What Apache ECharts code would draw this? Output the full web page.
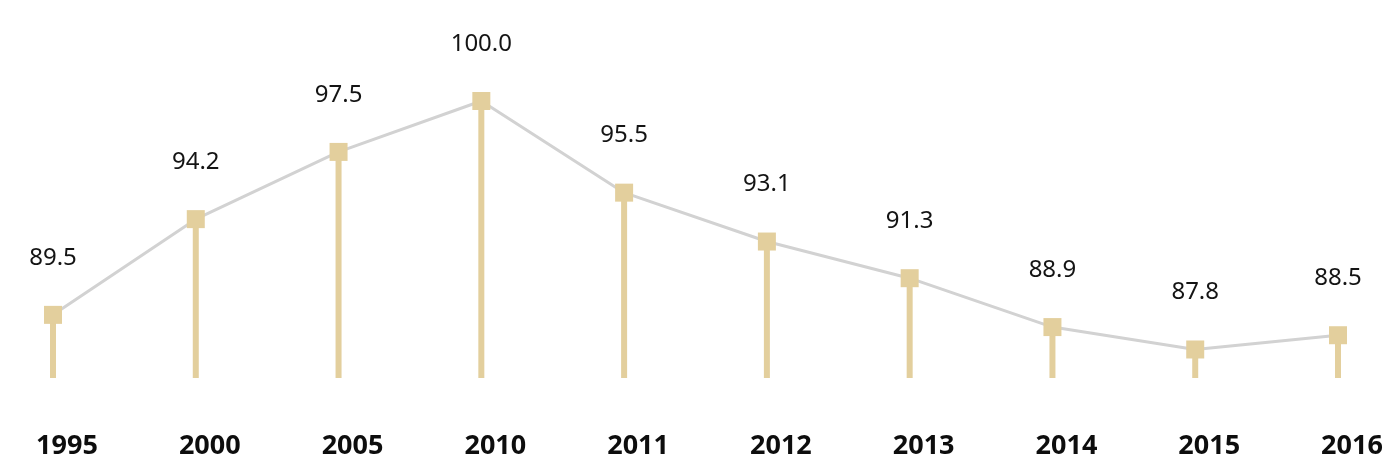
<!DOCTYPE html>
<html lang="en">
<head>
    <meta charset="UTF-8">
    <title>Index by year</title>
    <script src="https://cdn.jsdelivr.net/npm/echarts@6/dist/echarts.min.js"></script>
    <style>
        html, body { margin: 0; padding: 0; background: #fff; }
    </style>
</head>
<body>
<div id="chart" style="width: 1386px;height:462px;"></div>
<script type="text/javascript">
    var years = ['1995', '2000', '2005', '2010', '2011', '2012', '2013', '2014', '2015', '2016'];
    var values = [89.5, 94.2, 97.5, 100.0, 95.5, 93.1, 91.3, 88.9, 87.8, 88.5];

    var gold = '#e3cf9d';
    var chart = echarts.init(document.getElementById('chart'));

    var option = {
        animation: false,
        textStyle: {fontFamily: 'Noto Sans'},
        grid: {left: 53, right: 48, top: 101, bottom: 84},
        xAxis: {
            type: 'category',
            boundaryGap: false,
            data: years,
            axisLine: {show: false},
            axisTick: {show: false},
            axisLabel: {
                margin: 55,
                color: '#0d0d0d',
                fontSize: 27,
                fontWeight: 'bold',
                padding: [0, 0, 0, 28]
            }
        },
        yAxis: {
            type: 'value',
            min: 86.4,
            max: 100,
            show: false,
            splitLine: {show: false}
        },
        series: [
            {
                type: 'bar',
                data: values,
                barWidth: 6,
                itemStyle: {color: gold},
                z: 2
            },
            {
                type: 'line',
                data: values,
                symbol: 'rect',
                symbolSize: 18,
                itemStyle: {color: gold},
                lineStyle: {color: '#d2d2d2', width: 3},
                label: {
                    show: true,
                    position: 'top',
                    distance: 36,
                    fontSize: 24,
                    color: '#141414',
                    formatter: function (p) { return p.value.toFixed(1); }
                },
                z: 3
            }
        ]
    };

    chart.setOption(option);
</script>
</body>
</html>
